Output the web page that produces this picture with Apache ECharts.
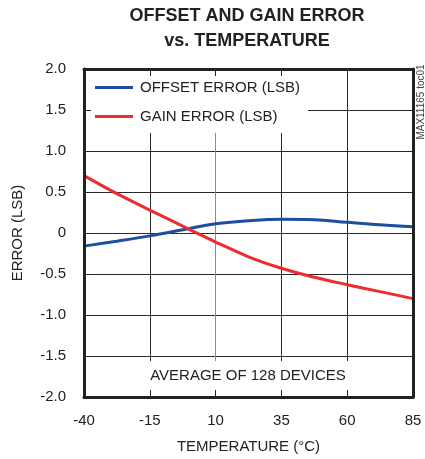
<!DOCTYPE html>
<html>
<head>
<meta charset="utf-8">
<script src="https://cdn.jsdelivr.net/npm/echarts@6/dist/echarts.min.js"></script>
<style>html,body{margin:0;padding:0;background:#fff}#c{width:425px;height:459px}</style>
</head>
<body>
<div id="c"></div>
<script>
var temps = [-40, -27.5, -15, 0, 10, 22.5, 35, 47.5, 60, 72.5, 85];
var offsetError = [-0.16, -0.10, -0.035, 0.055, 0.112, 0.15, 0.168, 0.162, 0.13, 0.10, 0.077];
var gainError = [0.70, 0.48, 0.28, 0.045, -0.11, -0.29, -0.43, -0.54, -0.63, -0.715, -0.80];
var xTicks = [-40, -15, 10, 35, 60, 85];
var yTickLabels = ['-2.0', '-1.5', '-1.0', '-0.5', '0', '0.5', '1.0', '1.5', '2.0'];
var seriesNames = ['OFFSET ERROR (LSB)', 'GAIN ERROR (LSB)'];
var titleText = 'OFFSET AND GAIN ERROR\nvs. TEMPERATURE';
var noteText = 'AVERAGE OF 128 DEVICES';
var sideText = 'MAX11165 toc01';

var FONT = "'Liberation Sans', Arial, Helvetica, sans-serif";
var FS = 15;
var TXT = '#222';
function pairs(xs, ys) { return xs.map(function (x, i) { return [x, ys[i]]; }); }
function yLabel(v) {
  var idx = Math.round((v + 2) / 0.5);
  return yTickLabels[idx] !== undefined ? yTickLabels[idx] : '';
}
var gridPos = { left: 84, right: 12, top: 69, bottom: 62 };
var xMin = xTicks[0], xMax = xTicks[xTicks.length - 1], xInt = xTicks[1] - xTicks[0];

var frameAxis = { show: true, lineStyle: { color: '#222', width: 3 }, onZero: false };
var tickStyle = { show: true, inside: true, length: 7, lineStyle: { color: '#222', width: 1 } };

var chart = echarts.init(document.getElementById('c'), null, { renderer: 'canvas' });
chart.setOption({
  animation: false,
  backgroundColor: '#fff',
  title: [
    {
      text: titleText, left: 247, top: 4, textAlign: 'center', padding: 0,
      textStyle: { fontFamily: FONT, fontSize: 18, fontWeight: 'bold', color: TXT, lineHeight: 25 }
    },
    {
      text: noteText, left: 248, top: 368, textAlign: 'center', padding: 0, z: 6,
      textStyle: { fontFamily: FONT, fontSize: FS, fontWeight: 'normal', color: TXT, lineHeight: 15 }
    }
  ],
  legend: {
    orient: 'vertical', left: 95, top: 80, padding: 0, itemGap: 14,
    itemWidth: 38, itemHeight: 3, z: 6, icon: 'rect',
    data: seriesNames,
    textStyle: { fontFamily: FONT, fontSize: FS, color: TXT, padding: [0, 0, 0, 2] }
  },
  grid: [
    Object.assign({}, gridPos),
    Object.assign({}, gridPos)
  ],
  xAxis: [
    {
      type: 'value', gridIndex: 0, min: xMin, max: xMax, interval: xInt, z: 0,
      axisLine: { show: false }, axisTick: { show: false },
      axisLabel: { fontFamily: FONT, fontSize: FS, color: TXT, margin: 16 },
      splitLine: { show: true, lineStyle: { color: ['#2a2a2a', '#2a2a2a', '#8c8c8c', '#2a2a2a', '#2a2a2a', '#2a2a2a'], width: 1 } },
      name: 'TEMPERATURE (°C)', nameLocation: 'middle', nameGap: 42,
      nameTextStyle: { fontFamily: FONT, fontSize: FS, color: TXT }
    },
    {
      type: 'value', gridIndex: 1, min: xMin, max: xMax, interval: xInt, position: 'bottom', z: 5,
      axisLine: frameAxis, axisTick: tickStyle, axisLabel: { show: false }, splitLine: { show: false }
    },
    {
      type: 'value', gridIndex: 1, min: xMin, max: xMax, interval: xInt, position: 'top', z: 5,
      axisLine: frameAxis, axisTick: tickStyle, axisLabel: { show: false }, splitLine: { show: false }
    }
  ],
  yAxis: [
    {
      type: 'value', gridIndex: 0, min: -2, max: 2, interval: 0.5, z: 0,
      axisLine: { show: false }, axisTick: { show: false },
      axisLabel: { fontFamily: FONT, fontSize: FS, color: TXT, margin: 18, formatter: yLabel },
      splitLine: { show: true, lineStyle: { color: '#2a2a2a', width: 1 } },
      name: 'ERROR (LSB)', nameLocation: 'middle', nameGap: 59,
      nameTextStyle: { fontFamily: FONT, fontSize: FS, color: TXT }
    },
    {
      type: 'value', gridIndex: 1, min: -2, max: 2, interval: 0.5, position: 'left', z: 5,
      axisLine: frameAxis, axisTick: tickStyle, axisLabel: { show: false }, splitLine: { show: false }
    },
    {
      type: 'value', gridIndex: 1, min: -2, max: 2, interval: 0.5, position: 'right', z: 5,
      axisLine: frameAxis, axisTick: tickStyle, axisLabel: { show: false }, splitLine: { show: false }
    }
  ],
  graphic: [
    { type: 'rect', z: 1, silent: true, shape: { x: 86, y: 71, width: 222, height: 62 }, style: { fill: '#fff' } },
    { type: 'rect', z: 1, silent: true, shape: { x: 86, y: 361, width: 325, height: 34 }, style: { fill: '#fff' } },
    {
      type: 'text', x: 421, y: 102, rotation: Math.PI / 2, z: 6,
      style: { text: sideText, fontFamily: FONT, fontSize: 10, fill: '#444', align: 'center', verticalAlign: 'middle' }
    }
  ],
  series: [
    {
      name: seriesNames[0], type: 'line', xAxisIndex: 0, yAxisIndex: 0, z: 2,
      data: pairs(temps, offsetError), smooth: 0.4, symbol: 'none',
      lineStyle: { color: '#1d4f9e', width: 3 }, itemStyle: { color: '#1d4f9e' }
    },
    {
      name: seriesNames[1], type: 'line', xAxisIndex: 0, yAxisIndex: 0, z: 2,
      data: pairs(temps, gainError), smooth: 0.3, symbol: 'none',
      lineStyle: { color: '#ee2b2f', width: 3 }, itemStyle: { color: '#ee2b2f' }
    }
  ]
});
</script>
</body>
</html>
